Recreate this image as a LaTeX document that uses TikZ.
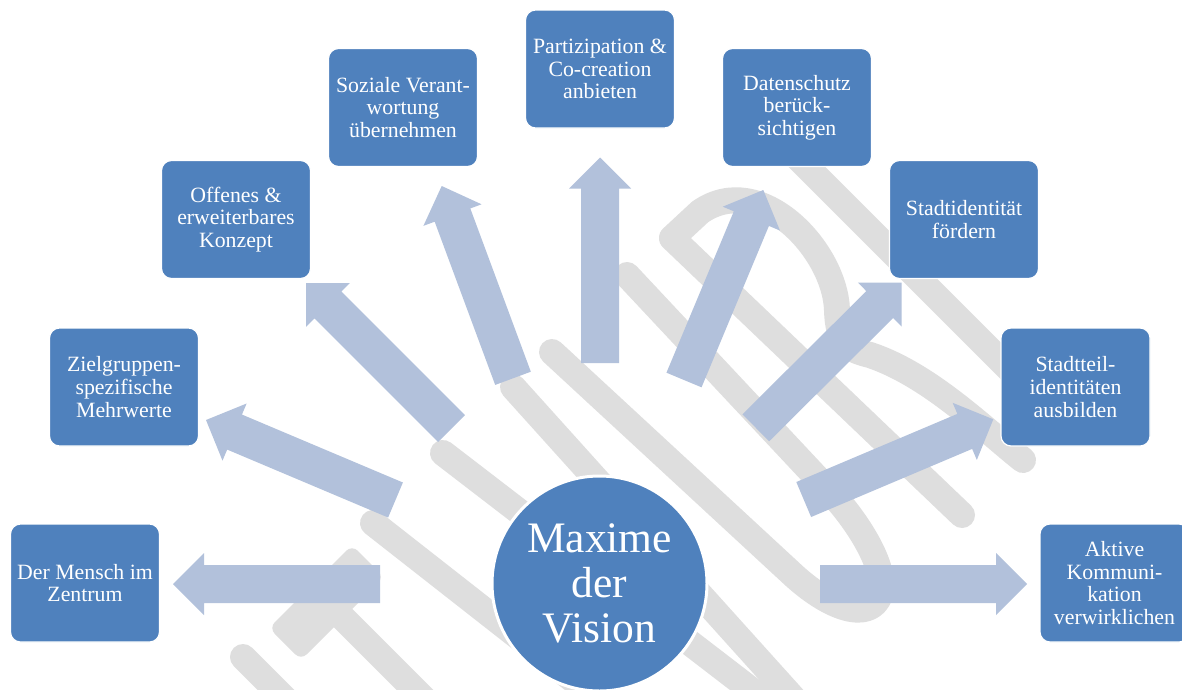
\documentclass[tikz,border=0pt]{standalone}
\usepackage{fontspec}
\setmainfont{Liberation Serif}
\usetikzlibrary{calc}
\definecolor{boxblue}{RGB}{79,129,189}
\definecolor{arrowblue}{RGB}{178,193,219}
\definecolor{wmgray}{RGB}{222,222,222}
\tikzset{
  gstroke/.style={draw=wmgray, line width=26pt, line cap=round, line join=round},
  boxnode/.style={rectangle, rounded corners=10pt, fill=boxblue, draw=white, line width=1.2pt,
    minimum width=149pt, minimum height=118pt, inner sep=0pt, text=white, align=center,
    font=\fontsize{21.8}{22.6}\selectfont},
  hub/.style={circle, fill=boxblue, draw=white, line width=3pt, minimum size=215pt, inner sep=0pt,
    text=white, align=center, font=\fontsize{43.5}{45}\selectfont},
  arrowfill/.style={fill=arrowblue},
}
\newcommand\blockarrow[2]{%
  \coordinate (bh) at ($(#2)!31pt!(#1)$);
  \fill[arrowfill] ($(#1)!19pt!90:(#2)$) -- ($(bh)!19pt!90:(#2)$) -- ($(bh)!31pt!90:(#2)$) -- (#2)
    -- ($(bh)!31pt!-90:(#2)$) -- ($(bh)!19pt!-90:(#2)$) -- ($(#1)!19pt!-90:(#2)$) -- cycle;}
\begin{document}
\begin{tikzpicture}[x=1pt,y=-1pt]
\useasboundingbox (0,0) rectangle (1182,689);
\fill[white] (0,0) rectangle (1182,689);
% watermark strokes
\draw[gstroke] (243,657) -- (292,706);
\fill[wmgray, rounded corners=8pt] (269,628) -- (352,545) -- (384,577) -- (301,660) -- cycle;
\draw[gstroke] (326,601) -- (425,700);
\draw[gstroke] (373,523) -- (609,708);
\draw[gstroke] (443,453) -- (776,709);
\draw[gstroke] (513,387) -- (794,699);
\draw[gstroke] (552,352) -- (790,572) .. controls (830,610) and (870,622) .. (880,595)
  .. controls (888,570) and (860,525) .. (833,495) -- (627,275);
\draw[gstroke] (962,515) -- (672,238) -- (700,212) .. controls (760,170) and (835,250) .. (837,310)
  .. controls (838,345) and (850,350) .. (870,355) .. controls (930,375) and (985,430) .. (1023,460);
\draw[gstroke] (790,150) -- (1010,370);
% arrow ends
\coordinate (t1) at (380,584);     \coordinate (p1) at (173,584);
\coordinate (t2) at (395.5,500);   \coordinate (p2) at (206,420);
\coordinate (t3) at (451.5,428.5); \coordinate (p3) at (306,283);
\coordinate (t4) at (513,378.3);   \coordinate (p4) at (441.7,186);
\coordinate (t5) at (600,363);     \coordinate (p5) at (600,157.5);
\coordinate (t6) at (684,380);     \coordinate (p6) at (763.3,190);
\coordinate (t7) at (755.8,427.8); \coordinate (p7) at (901.7,282.7);
\coordinate (t8) at (803.7,499.5); \coordinate (p8) at (993.3,419.3);
\coordinate (t9) at (820,584);     \coordinate (p9) at (1027,584);
\blockarrow{t1}{p1}
\blockarrow{t2}{p2}
\blockarrow{t3}{p3}
\blockarrow{t4}{p4}
\blockarrow{t5}{p5}
\blockarrow{t6}{p6}
\blockarrow{t7}{p7}
\blockarrow{t8}{p8}
\blockarrow{t9}{p9}
% boxes
\node[boxnode] (b1) at (85,583) {Der Mensch im\\Zentrum};
\node[boxnode] (b2) at (124,387) {Zielgruppen-\\spezifische\\Mehrwerte};
\node[boxnode] (b3) at (236,219.5) {Offenes \&\\erweiterbares\\Konzept};
\node[boxnode] (b4) at (403,107.5) {Soziale Verant-\\wortung\\übernehmen};
\node[boxnode] (b5) at (600,69) {Partizipation \&\\Co-creation\\anbieten};
\node[boxnode] (b6) at (797,107.5) {Datenschutz\\berück-\\sichtigen};
\node[boxnode] (b7) at (964,219.5) {Stadtidentität\\fördern};
\node[boxnode] (b8) at (1075.5,387) {Stadtteil-\\identitäten\\ausbilden};
\node[boxnode] (b9) at (1114.5,583) {Aktive\\Kommuni-\\kation\\verwirklichen};
\node[hub] (hub) at (599.5,583.5) {Maxime\\der\\Vision};
\end{tikzpicture}
\end{document}
